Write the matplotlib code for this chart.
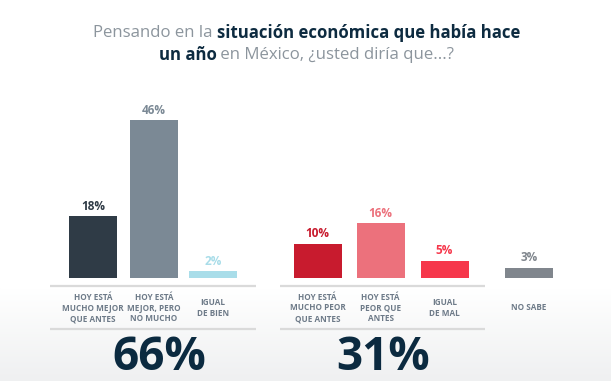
import numpy as np
import matplotlib.pyplot as plt
from matplotlib.colors import LinearSegmentedColormap

plt.rcParams['font.family'] = ['Open Sans', 'DejaVu Sans']

# datos
categorias = ['HOY ESTÁ\nMUCHO MEJOR\nQUE ANTES', 'HOY ESTÁ\nMEJOR, PERO\nNO MUCHO', 'IGUAL\nDE BIEN',
              'HOY ESTÁ\nMUCHO PEOR\nQUE ANTES', 'HOY ESTÁ\nPEOR QUE\nANTES', 'IGUAL\nDE MAL',
              'NO SABE']
valores = [18, 46, 2, 10, 16, 5, 3]
colores = ['#2f3b46', '#7b8995', '#a9dde9', '#c81b2e', '#ec717c', '#f6374b', '#80868d']
totales = ['66%', '31%']

# layout (px)
W, H = 611, 381
centros = [93, 154, 213, 317.5, 380.5, 444.5, 529]
ancho = 48
base_px = 278
px_por_pct = 3.43

fig = plt.figure(figsize=(W / 100, H / 100), dpi=100)

# fondo con degradado
bg = fig.add_axes([0, 0, 1, 1])
bg.set_xlim(0, W)
bg.set_ylim(H, 0)
bg.axis('off')
cmap = LinearSegmentedColormap.from_list('g', ['#ffffff', '#eff0f1'])
grad = np.linspace(0, 1, 100).reshape(-1, 1)
bg.imshow(grad, extent=[0, W, H, 288], cmap=cmap, aspect='auto', zorder=0)
bg.add_patch(plt.Rectangle((0, 0), W, 288, color='white', zorder=0))

# barras
top_pct = 50
ax = fig.add_axes([0, (H - base_px) / H, 1, top_pct * px_por_pct / H])
ax.set_xlim(0, W)
ax.set_ylim(0, top_pct)
ax.axis('off')
ax.bar(centros, valores, width=ancho, color=colores, zorder=2)
for x, v, c in zip(centros, valores, colores):
    ax.annotate(f'{v}%', (x, v), xytext=(0, 2.5), textcoords='offset points',
                ha='center', va='bottom', fontsize=8.5, fontweight='bold', color=c)

# lineas separadoras y etiquetas
for x0, x1 in [(50, 256), (280, 485)]:
    for y in (286, 329):
        bg.plot([x0, x1], [y, y], color='#dadada', lw=1.6, solid_capstyle='butt', zorder=3)
for x, cat in zip(centros, categorias):
    bg.text(x, 308, cat, ha='center', va='center', fontsize=5.9, fontweight='bold',
            color='#6d7a88', linespacing=1.22, zorder=4)

# totales
for x, t in zip([159, 383], totales):
    bg.text(x, 358, t, ha='center', va='center', fontsize=33, fontweight='bold',
            color='#0b2a40', zorder=4)

# titulo con partes en negrita
gris = '#8c959d'
azul = '#0d2b40'
lineas = [
    [('Pensando en la ', 'normal', gris), ('situación económica que había hace', 'bold', azul)],
    [('un año', 'bold', azul), (' en México, ¿usted diría que...?', 'normal', gris)],
]
renderer = fig.canvas.get_renderer()
for y, partes in zip([33, 55], lineas):
    textos = []
    for s, w, c in partes:
        t = bg.text(0, y, s, fontsize=12.1, fontweight=w, color=c, va='center', ha='left', zorder=4)
        textos.append(t)
    anchos = [t.get_window_extent(renderer).width for t in textos]
    x = W / 2 - sum(anchos) / 2 + 1
    for t, a in zip(textos, anchos):
        t.set_x(x)
        x += a

fig.savefig('out.png', dpi=100)
